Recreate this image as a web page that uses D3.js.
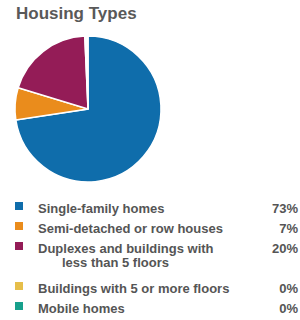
<!DOCTYPE html>
<html>
<head>
<meta charset="utf-8">
<script src="https://cdn.jsdelivr.net/npm/d3@7"></script>
<style>
  body { margin: 0; background: #fff; }
  text { font-family: "Liberation Sans", Arial, sans-serif; }
</style>
</head>
<body>
<div id="plot"></div>
<script>
// housing type shares
const categories = [
  ["Single-family homes"],
  ["Semi-detached or row houses"],
  ["Duplexes and buildings with", "less than 5 floors"],
  ["Buildings with 5 or more floors"],
  ["Mobile homes"]
];
const values = [72.6, 7.1, 19.6, 0.4, 0.3];
const labels = ["73%", "7%", "20%", "0%", "0%"];
const colors = ["#0f6dab", "#ea8c1c", "#941c57", "#e6be4a", "#17a08c"];

const width = 300, height = 320;

const svg = d3.select("#plot")
  .append("svg")
    .attr("width", width)
    .attr("height", height);

svg.append("text")
    .attr("x", 16)
    .attr("y", 19)
    .attr("fill", "#595959")
    .style("font-size", "17px")
    .style("font-weight", "bold")
    .text("Housing Types");

const pie = d3.pie().sort(null).value(d => d);
const arc = d3.arc().innerRadius(0).outerRadius(73);

const g = svg.append("g")
    .attr("transform", "translate(88,109)");

g.selectAll("path")
  .data(pie(values))
  .enter().append("path")
    .attr("d", arc)
    .attr("fill", (d, i) => i > 2 ? "#fff" : colors[i])
    .attr("stroke", "#fff")
    .attr("stroke-width", 1.5);

// legend rows, the third one wraps onto two lines
const rowY = [202, 222, 242, 282, 302];
const row = svg.selectAll(".row")
  .data(categories)
  .enter().append("g")
    .attr("class", "row")
    .attr("transform", (d, i) => "translate(0," + rowY[i] + ")");

row.append("rect")
    .attr("x", 15)
    .attr("y", 0)
    .attr("width", 8)
    .attr("height", 8)
    .attr("fill", (d, i) => colors[i]);

row.each(function(d) {
  const t = d3.select(this).append("text")
      .attr("fill", "#555")
      .style("font-size", "13px")
      .style("font-weight", "bold");
  d.forEach((line, j) => {
    t.append("tspan")
      .attr("x", j === 0 ? 38 : 62)
      .attr("y", 11 + j * 14)
      .text(line);
  });
});

row.append("text")
    .attr("x", 298)
    .attr("y", 11)
    .attr("text-anchor", "end")
    .attr("fill", "#555")
    .style("font-size", "13px")
    .style("font-weight", "bold")
    .text((d, i) => labels[i]);
</script>
</body>
</html>
